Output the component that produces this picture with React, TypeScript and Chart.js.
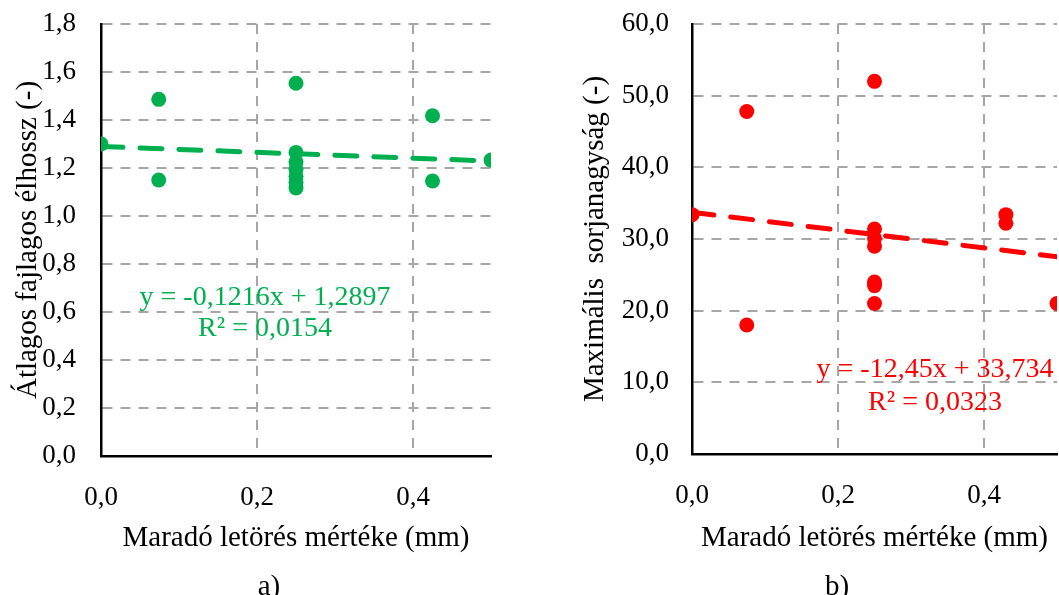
import React, { useEffect, useRef } from "react";
import { Chart, registerables } from "chart.js";

Chart.register(...registerables);

// ---- Data ----
const xA = [0, 0.074, 0.074, 0.25, 0.25, 0.25, 0.25, 0.25, 0.25, 0.25, 0.425, 0.425, 0.5];
const yA = [1.3, 1.486, 1.15, 1.553, 1.265, 1.225, 1.195, 1.165, 1.14, 1.117, 1.418, 1.146, 1.233];
const slopeA = -0.1216;
const interceptA = 1.2897;
const eqA = ["y = -0,1216x + 1,2897", "R² = 0,0154"];

const xB = [0, 0.075, 0.075, 0.25, 0.25, 0.25, 0.25, 0.25, 0.25, 0.25, 0.43, 0.43, 0.5];
const yB = [33.4, 47.8, 18.0, 52.0, 31.4, 30.1, 29.0, 24.0, 23.5, 21.0, 33.4, 32.2, 21.0];
const slopeB = -12.45;
const interceptB = 33.734;
const eqB = ["y = -12,45x + 33,734", "R² = 0,0323"];

const xTitle = "Maradó letörés mértéke (mm)";
const yTitleA = "Átlagos fajlagos élhossz (-)";
const yTitleB = "Maximális  sorjanagyság (-)";
const captionA = "a)";
const captionB = "b)";

const FONT = "'Liberation Serif', 'Times New Roman', serif";
const GREEN = "#00B050";
const RED = "#FF0000";
const GRID = "#A6A6A6";

const fmt = (v: number) => Number(v).toFixed(1).replace(".", ",");

interface PanelCfg {
  xs: number[];
  ys: number[];
  slope: number;
  intercept: number;
  eq: string[];
  color: string;
  yMax: number;
  yStep: number;
  yTitle: string;
  caption: string;
  padRight: number;
  xAxisHeight: number;
  yAxisWidth: number;
  yTickPad: number;
  yTitlePad: number;
  eqPos: [number, number, number]; // x, y1, y2 (canvas px)
  capPos: [number, number];
}

function makeChart(canvas: HTMLCanvasElement, c: PanelCfg) {
  const points = c.xs.map((x, i) => ({ x, y: c.ys[i] }));
  const trend = [
    { x: 0, y: c.intercept },
    { x: 0.5, y: c.slope * 0.5 + c.intercept },
  ];
  const textPlugin = {
    id: "texts",
    afterDraw(chart: any) {
      const ctx = chart.ctx;
      ctx.save();
      ctx.textAlign = "center";
      ctx.textBaseline = "middle";
      ctx.fillStyle = c.color;
      ctx.font = `28px ${FONT}`;
      ctx.fillText(c.eq[0], c.eqPos[0], c.eqPos[1]);
      ctx.fillText(c.eq[1], c.eqPos[0], c.eqPos[2]);
      ctx.fillStyle = "#000";
      ctx.font = `29px ${FONT}`;
      ctx.fillText(c.caption, c.capPos[0], c.capPos[1]);
      ctx.restore();
    },
  };
  return new Chart(canvas, {
    type: "scatter",
    data: {
      datasets: [
        {
          type: "line",
          data: trend,
          borderColor: c.color,
          borderWidth: 5,
          borderDash: [22, 17],
          borderCapStyle: "round",
          pointRadius: 0,
          fill: false,
          order: 0,
        } as any,
        {
          data: points,
          backgroundColor: c.color,
          borderColor: c.color,
          pointRadius: 7.5,
          pointBorderWidth: 0,
          order: 1,
        },
      ],
    },
    options: {
      animation: false,
      responsive: false,
      devicePixelRatio: 1,
      layout: { padding: { left: 0, top: 24, right: c.padRight, bottom: 0 } },
      plugins: { legend: { display: false }, tooltip: { enabled: false } },
      scales: {
        x: {
          type: "linear",
          min: 0,
          max: 0.5,
          afterFit: (s: any) => {
            s.height = c.xAxisHeight;
          },
          ticks: {
            stepSize: 0.2,
            includeBounds: false,
            callback: (v: any) => fmt(v),
            font: { family: FONT, size: 27 },
            color: "#000",
            padding: 26,
            maxRotation: 0,
          },
          grid: { color: GRID, lineWidth: 2, drawTicks: false },
          border: { display: true, color: "#000", width: 2.5, dash: [10, 8] },
          title: {
            display: true,
            text: xTitle,
            font: { family: FONT, size: 29 },
            color: "#000",
            padding: { top: 0, bottom: 39 },
          },
        },
        y: {
          type: "linear",
          min: 0,
          max: c.yMax,
          afterFit: (s: any) => {
            s.width = c.yAxisWidth;
          },
          ticks: {
            stepSize: c.yStep,
            callback: (v: any) => fmt(v),
            font: { family: FONT, size: 27 },
            color: "#000",
            padding: 0,
          },
          grid: {
            color: GRID,
            lineWidth: 2,
            drawTicks: true,
            tickLength: c.yTickPad,
            tickColor: "rgba(0,0,0,0)",
          },
          border: { display: true, color: "#000", width: 2.5, dash: [10, 8] },
          title: {
            display: true,
            text: c.yTitle,
            font: { family: FONT, size: 29 },
            color: "#000",
            padding: { top: c.yTitlePad, bottom: 0 },
          },
        },
      },
    },
    plugins: [textPlugin],
  } as any);
}

export default function App() {
  const refA = useRef<HTMLCanvasElement>(null);
  const refB = useRef<HTMLCanvasElement>(null);
  useEffect(() => {
    const a = makeChart(refA.current!, {
      xs: xA,
      ys: yA,
      slope: slopeA,
      intercept: interceptA,
      eq: eqA,
      color: GREEN,
      yMax: 1.8,
      yStep: 0.2,
      yTitle: yTitleA,
      caption: captionA,
      padRight: 39,
      xAxisHeight: 139,
      yAxisWidth: 101,
      yTickPad: 25,
      yTitlePad: 11,
      eqPos: [265, 298, 329],
      capPos: [269, 587],
    });
    const b = makeChart(refB.current!, {
      xs: xB,
      ys: yB,
      slope: slopeB,
      intercept: interceptB,
      eq: eqB,
      color: RED,
      yMax: 60,
      yStep: 10,
      yTitle: yTitleB,
      caption: captionB,
      padRight: 33,
      xAxisHeight: 141,
      yAxisWidth: 162,
      yTickPad: 23,
      yTitlePad: 48,
      eqPos: [935 - 530, 370, 403],
      capPos: [837 - 530, 587],
    });
    return () => {
      a.destroy();
      b.destroy();
    };
  }, []);
  return (
    <div
      style={{
        position: "fixed",
        left: 0,
        top: 0,
        width: 1059,
        height: 595,
        overflow: "hidden",
        background: "#fff",
      }}
    >
      <canvas
        ref={refA}
        width={530}
        height={595}
        style={{ position: "absolute", left: 0, top: 0, width: 530, height: 595 }}
      />
      <canvas
        ref={refB}
        width={560}
        height={595}
        style={{ position: "absolute", left: 530, top: 0, width: 560, height: 595 }}
      />
    </div>
  );
}
